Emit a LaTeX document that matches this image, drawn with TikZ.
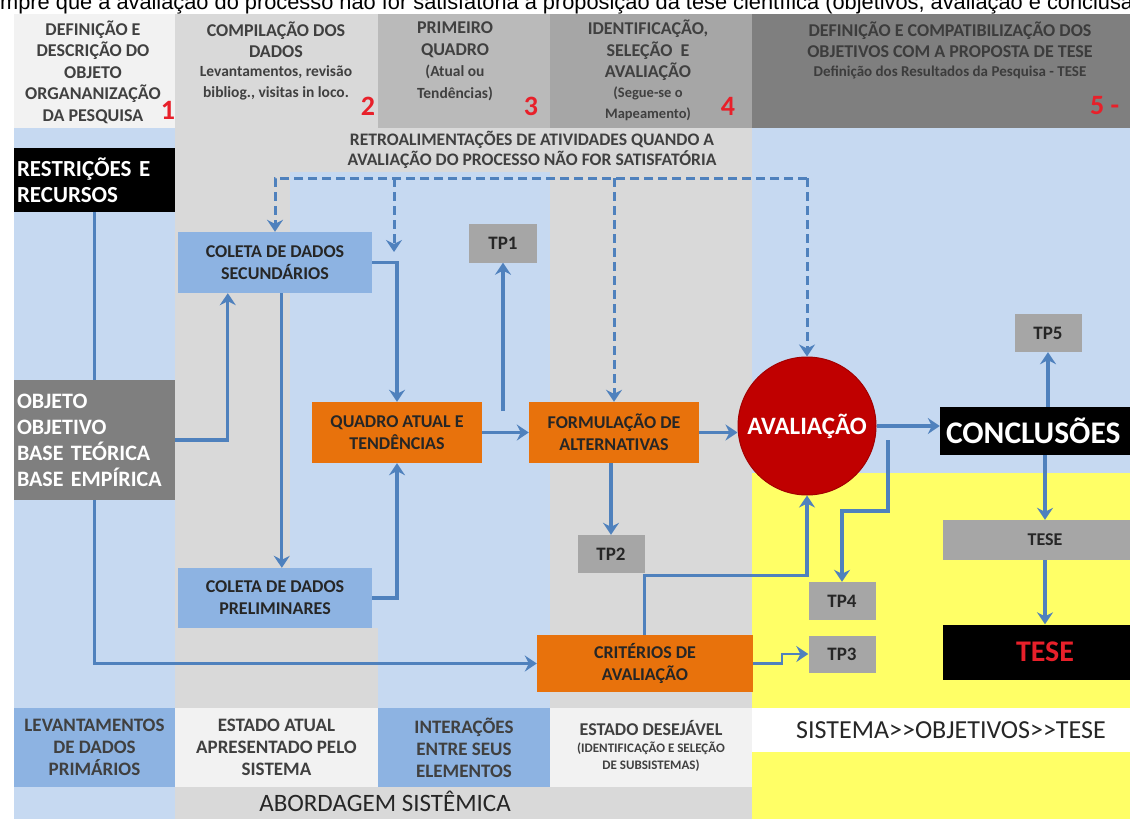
\documentclass[tikz,border=0pt]{standalone}
\usepackage{fontspec}
\setmainfont{Carlito}
\newfontfamily\capfont{Liberation Sans}
\usetikzlibrary{arrows.meta}
\pgfdeclarelayer{bg}
\pgfdeclarelayer{lines}
\pgfsetlayers{bg,lines,main}
\newcommand{\myfs}[2]{\fontsize{#1}{#2}\selectfont}
\definecolor{lblue}{HTML}{C6D9F1}
\definecolor{lgray}{HTML}{D9D9D9}
\definecolor{vlgray}{HTML}{F2F2F2}
\definecolor{boxblue}{HTML}{8DB3E2}
\definecolor{orng}{HTML}{E8720C}
\definecolor{tpgray}{HTML}{A6A6A6}
\definecolor{dgray}{HTML}{7F7F7F}
\definecolor{arrowblue}{HTML}{4F81BD}
\definecolor{yell}{HTML}{FFFF66}
\definecolor{redn}{HTML}{E8202A}
\definecolor{txt}{HTML}{262626}
\definecolor{htxt}{HTML}{404040}
\definecolor{avred}{HTML}{C00000}
\begin{document}
\begin{tikzpicture}[x=1pt,y=-1pt,
  conn/.style={draw=arrowblue, line width=3.2pt, -{Stealth[length=12pt,width=16pt,inset=4pt]}},
  dashline/.style={draw=arrowblue, line width=3pt, dash pattern=on 9pt off 5pt, -{Stealth[length=12pt,width=16pt,inset=4pt]}},
  htext/.style={inner sep=0, align=center, text=htxt, font=\bfseries\myfs{18}{21.5}},
  hsub/.style={inner sep=0, align=center, text=htxt, font=\bfseries\myfs{15.5}{21.5}},
  num/.style={inner sep=0, text=redn, font=\bfseries\myfs{28}{30}},
  bx/.style={inner sep=0, align=center, text=txt, font=\bfseries\myfs{18}{22}},
  tp/.style={inner sep=0, align=center, text=txt, fill=tpgray, font=\bfseries\myfs{19}{20}, minimum width=67pt, minimum height=38pt},
  lab/.style={inner sep=0, align=center, text=htxt, font=\bfseries\myfs{19}{22}}
]
\useasboundingbox (0,0) rectangle (1130,819);

% ---------- backgrounds ----------
\begin{pgfonlayer}{bg}
\fill[white] (0,0) rectangle (1130,819);
\fill[lblue] (14,128) rectangle (1130,819);
\fill[vlgray] (14,14) rectangle (175,128);
\fill[lgray] (175,14) rectangle (378,128);
\fill[tpgray!60!lgray] (378,14) rectangle (550,128);
\fill[tpgray] (550,14) rectangle (752,128);
\fill[dgray] (752,14) rectangle (1130,128);
\fill[lgray] (175,128) rectangle (290,708);
\fill[lgray] (175,628) rectangle (378,708);
\fill[lgray] (290,128) rectangle (550,172);
\fill[lgray] (550,128) rectangle (752,819);
\fill[lgray] (175,787) rectangle (752,819);
\fill[yell] (752,473) rectangle (1130,819);
\fill[white] (752,708) rectangle (1130,752);
\fill[boxblue] (14,708) rectangle (175,787);
\fill[vlgray] (175,708) rectangle (378,787);
\fill[boxblue] (378,708) rectangle (550,787);
\fill[vlgray] (550,708) rectangle (752,787);
\end{pgfonlayer}

% ---------- caption (cut at top) ----------
\begin{scope}
\clip (0,0) rectangle (1130,14);
\node[anchor=base west, inner sep=0, font=\capfont\myfs{21.8}{22}] (caption) at (0,9.8)
  {mpre que a avaliação do processo não for satisfatória a proposição da tese científica (objetivos, avaliação e conclusã};
\end{scope}

% ---------- header ----------
\node[htext] (h1) at (93,72) {DEFINIÇÃO E\\DESCRIÇÃO DO\\OBJETO\\ORGANANIZAÇÃO\\DA PESQUISA};
\node[htext] (h2a) at (276,39.75) {COMPILAÇÃO DOS\\DADOS};
\node[hsub] (h2b) at (276,82.75) {Levantamentos, revisão\\bibliog., visitas in loco.};
\node[htext] (h3a) at (455,39.75) {PRIMEIRO\\QUADRO};
\node[hsub] (h3b) at (455,82.75) {(Atual ou\\Tendências)};
\node[htext] (h4a) at (648,50.5) {IDENTIFICAÇÃO,\\SELEÇÃO \ E\\AVALIAÇÃO};
\node[hsub, font=\bfseries\myfs{14.5}{21.5}] (h4b) at (648,104) {(Segue-se o\\Mapeamento)};
\node[htext, text=txt!90!white] (h5a) at (950,39.75) {DEFINIÇÃO E COMPATIBILIZAÇÃO DOS\\OBJETIVOS COM A PROPOSTA DE TESE};
\node[hsub, text=txt!90!white, font=\bfseries\myfs{15}{20}] (h5b) at (950,72) {Definição dos Resultados da Pesquisa - TESE};
\node[num] (n1) at (168,110) {1};
\node[num] (n2) at (368,106) {2};
\node[num] (n3) at (531,106) {3};
\node[num] (n4) at (728,106) {4};
\node[num, anchor=west] (n5) at (1090,106) {5 -};

% ---------- feedback text ----------
\node[inner sep=0, align=center, text=htxt, font=\bfseries\myfs{17.6}{20}] (retro) at (532,150)
  {RETROALIMENTAÇÕES DE ATIVIDADES QUANDO A\\AVALIAÇÃO DO PROCESSO NÃO FOR SATISFATÓRIA};

% ---------- nodes ----------
\node[bx, fill=black, text=white, minimum width=161pt, minimum height=64pt, text width=155pt, align=left, font=\bfseries\myfs{23}{26}] (restr) at (94.5,180) {RESTRIÇÕES E\\RECURSOS};
\node[bx, fill=dgray, text=white, minimum width=161pt, minimum height=120pt, text width=155pt, align=left, font=\bfseries\myfs{22}{26}] (objeto) at (94.5,440) {OBJETO\\OBJETIVO\\BASE TEÓRICA\\BASE EMPÍRICA};
\node[bx, fill=boxblue, minimum width=194pt, minimum height=61pt] (cs) at (275,262.5) {COLETA DE DADOS\\SECUNDÁRIOS};
\node[bx, fill=boxblue, minimum width=194pt, minimum height=60pt] (cp) at (275,598) {COLETA DE DADOS\\PRELIMINARES};
\node[bx, fill=orng, minimum width=170pt, minimum height=61pt] (quadro) at (397,432.5) {QUADRO ATUAL E\\TENDÊNCIAS};
\node[bx, fill=orng, minimum width=170pt, minimum height=61pt] (form) at (614,432.5) {FORMULAÇÃO DE\\ALTERNATIVAS};
\node[bx, fill=orng, minimum width=216pt, minimum height=57pt] (crit) at (645,663.5) {CRITÉRIOS DE\\AVALIAÇÃO};
\node[tp, minimum width=68pt, minimum height=39pt] (tp1) at (503,243) {TP1};
\node[tp] (tp2) at (611,554) {TP2};
\node[tp, minimum height=37pt] (tp3) at (842,654) {TP3};
\node[tp] (tp4) at (842,601) {TP4};
\node[tp] (tp5) at (1048,333) {TP5};
\node[circle, fill=avred, draw=avred!85!black, line width=1pt, minimum size=138pt, inner sep=0, text=white, font=\bfseries\myfs{25}{26}] (aval) at (807,426) {AVALIAÇÃO};
\node[inner sep=0, fill=black, text=white, minimum height=48pt, text width=190pt, inner xsep=6pt, align=left, font=\bfseries\myfs{31.5}{32}] (concl) at (1041,431) {CONCLUSÕES};
\node[tp, minimum width=204pt, minimum height=40pt, font=\bfseries\myfs{18}{20}] (tesegray) at (1045,540) {TESE};
\node[inner sep=0, fill=black, text=redn, minimum width=204pt, minimum height=55pt, font=\bfseries\myfs{30}{32}] (teseblack) at (1045,652) {TESE};

% ---------- bottom labels ----------
\node[lab] (lab1) at (94.5,747.5) {LEVANTAMENTOS\\DE DADOS\\PRIMÁRIOS};
\node[lab] (lab2) at (276.5,747.5) {ESTADO ATUAL\\APRESENTADO PELO\\SISTEMA};
\node[lab] (lab3) at (464,747.5) {INTERAÇÕES\\ENTRE SEUS\\ELEMENTOS};
\node[lab, font=\bfseries\myfs{18}{20}] (lab4a) at (651,728) {ESTADO DESEJÁVEL};
\node[lab, font=\bfseries\myfs{13}{17}] (lab4b) at (651,757) {(IDENTIFICAÇÃO E SELEÇÃO\\DE SUBSISTEMAS)};
\node[inner sep=0, text=txt, font=\myfs{26}{28}] (sis) at (951,730) {SISTEMA>\kern0pt>OBJETIVOS>\kern0pt>TESE};
\node[inner sep=0, text=txt, font=\myfs{25}{26}] (abord) at (385,801) {ABORDAGEM SISTÊMICA};

% ---------- coordinates ----------
\coordinate (fbL) at (275,178);
\coordinate (fbR) at (aval.north |- fbL);
\coordinate (fb2) at (394,178);
\coordinate (fb2e) at (394,252);
\coordinate (tp1s) at (503,411);
\coordinate (a4) at (888,440);
\coordinate (a4b) at (888,511);
\coordinate (c3a) at (782,663.5);
\coordinate (c3b) at (782,654);

% ---------- connectors ----------
\begin{pgfonlayer}{lines}
\draw[dashline] (fbR) -- (fbL) -- (fbL |- cs.north);
\draw[dashline] (fbR) -- (aval.north);
\draw[dashline] (fb2) -- (fb2e);
\draw[dashline] (form.north |- fbL) -- (form.north);
\draw[conn] (restr.south) -- (restr.south |- crit.west) -- (crit.west);
\draw[conn] (objeto.east) -| ([xshift=50pt]cs.south west);
\draw[conn] ([xshift=104pt]cs.south west) -- ([xshift=104pt]cp.north west);
\draw[conn] (cs.east) -| (quadro.north);
\draw[conn] (cp.east) -| (quadro.south);
\draw[conn] (quadro.east) -- (form.west);
\draw[conn] (tp1s) -- (tp1.south);
\draw[conn] (form.east) -- (aval.west |- form.east);
\draw[conn] (form.south -| tp2.north) -- (tp2.north);
\draw[conn] ([xshift=108pt]crit.north west) |- ([yshift=-80pt]aval.south) -- (aval.south);
\draw[conn] (aval.east) -- (concl.west |- aval.east);
\draw[conn] (a4) -- (a4b) -| (tp4.north);
\draw[conn, line width=2.4pt] (crit.east) -- (c3a) -- (c3b) -- (tp3.west);
\draw[conn] (concl.north -| tp5.south) -- (tp5.south);
\draw[conn] (concl.south -| tesegray.north) -- (tesegray.north);
\draw[conn] (tesegray.south) -- (teseblack.north);
\end{pgfonlayer}
\end{tikzpicture}
\end{document}
